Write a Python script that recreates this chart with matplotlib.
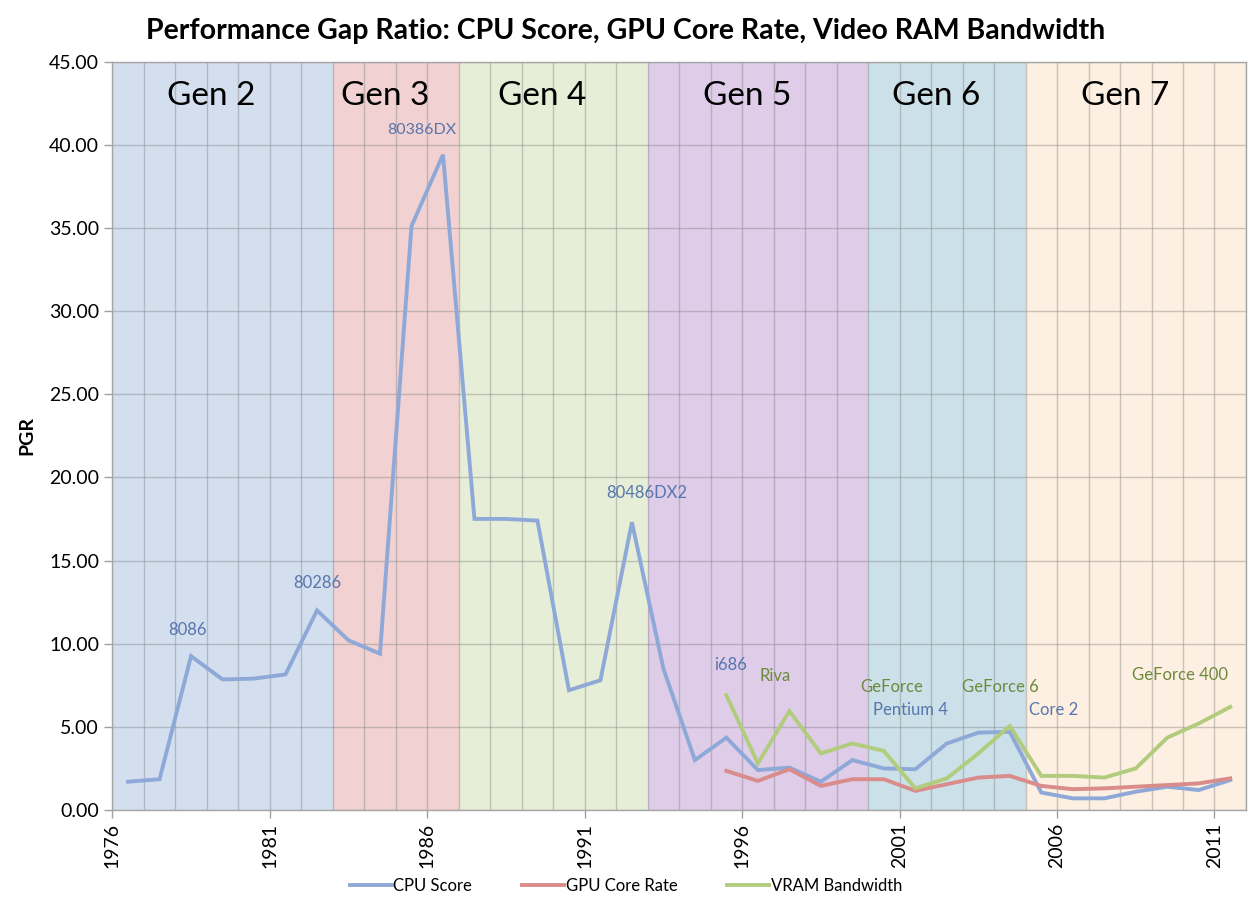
import matplotlib
matplotlib.use("Agg")
import matplotlib.pyplot as plt
import numpy as np

# ---------------- data ----------------
years = list(range(1976, 2012))
cpu_score = [1.7, 1.85, 9.25, 7.85, 7.9, 8.15, 12.0, 10.2, 9.4, 35.1, 39.4, 17.5,
             17.5, 17.4, 7.2, 7.8, 17.3, 8.5, 3.0, 4.35, 2.4, 2.55, 1.7, 3.0,
             2.5, 2.45, 4.0, 4.65, 4.7, 1.05, 0.7, 0.7, 1.1, 1.4, 1.2, 1.8]

gpu_years = list(range(1995, 2012))
gpu_core_rate = [2.35, 1.75, 2.45, 1.45, 1.85, 1.85, 1.15, 1.55, 1.95, 2.05,
                 1.45, 1.25, 1.3, 1.4, 1.5, 1.6, 1.9]
vram_bandwidth = [6.9, 2.8, 5.95, 3.4, 4.0, 3.55, 1.3, 1.9, 3.4, 5.05,
                  2.05, 2.05, 1.95, 2.5, 4.35, 5.2, 6.2]

gen_names = ["Gen 2", "Gen 3", "Gen 4", "Gen 5", "Gen 6", "Gen 7"]
gen_starts = [1976, 1983, 1987, 1993, 2000, 2005]
gen_ends = [1983, 1987, 1993, 2000, 2005, 2012]
gen_colors = ["#D3DFEE", "#F1D1D1", "#E6EED7", "#DECCE8", "#CBE0E8", "#FDEFE1"]

cpu_notes = ["8086", "80286", "80386DX", "80486DX2", "i686", "Pentium 4", "Core 2"]
cpu_note_x = [1978.4, 1982.5, 1985.83, 1992.97, 1995.63, 2001.36, 2005.9]
cpu_note_y = [10.8, 13.65, 40.9, 19.05, 8.7, 6.0, 6.0]

gpu_notes = ["Riva", "GeForce", "GeForce 6", "GeForce 400"]
gpu_note_x = [1997.04, 2000.75, 2004.2, 2009.9]
gpu_note_y = [8.05, 7.4, 7.4, 8.1]

x_ticks = [1976, 1981, 1986, 1991, 1996, 2001, 2006, 2011]

# ---------------- style ----------------
FONT = ["Lato", "DejaVu Sans"]
plt.rcParams["font.family"] = FONT

fig = plt.figure(figsize=(12.52, 8.98), dpi=100)
ax = fig.add_axes([0.0897, 0.098, 0.9055, 0.8335])

for s, e, c in zip(gen_starts, gen_ends, gen_colors):
    ax.axvspan(s, e, color=c, zorder=0, lw=0)

offset = 0.5  # points are centred inside each year's slot
cpu_x = np.array(years) + offset
gpu_x = np.array(gpu_years) + offset

ax.plot(cpu_x, cpu_score, color="#8EA9D8", lw=2.8, label="CPU Score",
        solid_joinstyle="miter", zorder=3)
ax.plot(gpu_x, gpu_core_rate, color="#D98C8A", lw=2.8, label="GPU Core Rate",
        solid_joinstyle="miter", zorder=3)
ax.plot(gpu_x, vram_bandwidth, color="#B2CC7E", lw=2.8, label="VRAM Bandwidth",
        solid_joinstyle="miter", zorder=3)

ax.set_xlim(1976, 2012)
ax.set_ylim(0, 45)
ax.set_yticks(np.arange(0, 46, 5))
ax.set_yticklabels([f"{v:.2f}" for v in np.arange(0, 46, 5)], fontsize=14)
ax.set_xticks(x_ticks)
ax.set_xticklabels([str(t) for t in x_ticks], rotation=90, fontsize=14)
ax.set_xticks(np.arange(1976, 2013, 1), minor=True)

ax.set_axisbelow(True)
ax.grid(True, which="major", axis="y", color="#7F7F7F", alpha=0.4, lw=1.0)
ax.grid(True, which="both", axis="x", color="#7F7F7F", alpha=0.4, lw=1.0)
ax.tick_params(axis="x", which="minor", length=0)
ax.tick_params(axis="both", which="major", length=6, color="#A0A0A0", width=1)
for sp in ax.spines.values():
    sp.set_color("#A6A6A6")
    sp.set_linewidth(1)

for name, s, e in zip(gen_names, gen_starts, gen_ends):
    ax.text((s + e) / 2 - 0.35, 42.9, name, fontsize=24, ha="center",
            va="center", color="black", zorder=4)

for t, x, y in zip(cpu_notes, cpu_note_x, cpu_note_y):
    fs = 11.5 if t == "80386DX" else 12
    ax.text(x, y, t, fontsize=fs, ha="center", va="center", color="#5676AD",
            zorder=4)
for t, x, y in zip(gpu_notes, gpu_note_x, gpu_note_y):
    ax.text(x, y, t, fontsize=12, ha="center", va="center", color="#6C8A3C",
            zorder=4)

ax.set_ylabel("PGR", fontsize=14, fontweight="bold", labelpad=10)

fig.suptitle("Performance Gap Ratio: CPU Score, GPU Core Rate, Video RAM Bandwidth",
             fontsize=20.5, fontweight="bold", y=0.98)

fig.legend(loc="lower center", ncol=3, frameon=False, fontsize=12,
           bbox_to_anchor=(0.5, -0.012), handlelength=2.5, columnspacing=3.0,
           handletextpad=0.1)

fig.savefig("out.png", dpi=100)
